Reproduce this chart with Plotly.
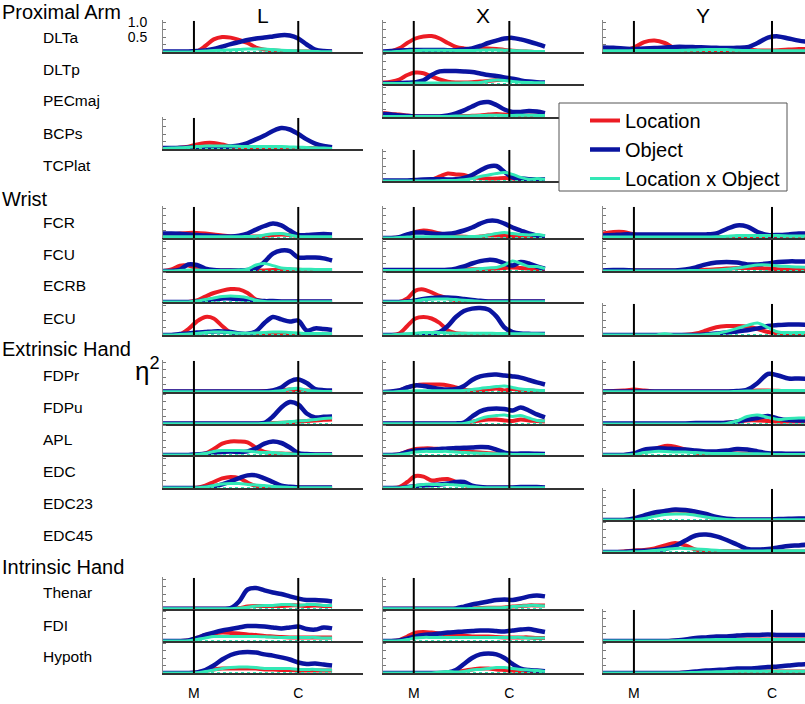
import plotly.graph_objects as go

# ---------------- data ----------------
# shared time grid (fraction of the analysed epoch)
T = [0, 0.05, 0.1, 0.15, 0.2, 0.25, 0.3, 0.35, 0.4, 0.45, 0.5,
     0.55, 0.6, 0.65, 0.7, 0.75, 0.8, 0.85, 0.9, 0.95, 1.0]

# ---- column L ----
L_DLTa_loc = [0,0,0,0,0.02,0.2,0.42,0.5,0.48,0.4,0.3,0.15,0.08,0.05,0.03,0.02,0.02,0.02,0.01,0.01,0.01]
L_DLTa_obj = [0.02,0.02,0.02,0.02,0.03,0.05,0.1,0.18,0.26,0.33,0.4,0.45,0.48,0.52,0.56,0.55,0.45,0.25,0.08,0.03,0.02]
L_DLTa_int = [0,0,0,0,0.02,0.03,0.05,0.06,0.07,0.08,0.1,0.1,0.1,0.08,0.06,0.05,0.04,0.03,0.02,0.01,0.01]

L_BCPs_loc = [0.02,0.02,0.04,0.08,0.15,0.2,0.2,0.15,0.08,0.05,0.04,0.03,0.03,0.03,0.03,0.03,0.03,0.03,0.03,0.02,0.02]
L_BCPs_obj = [0.03,0.03,0.04,0.05,0.06,0.06,0.05,0.06,0.08,0.12,0.2,0.32,0.45,0.6,0.7,0.65,0.5,0.32,0.18,0.1,0.06]
L_BCPs_int = [0.02,0.03,0.04,0.06,0.08,0.1,0.1,0.1,0.1,0.09,0.08,0.08,0.08,0.08,0.08,0.07,0.06,0.05,0.04,0.03,0.02]

L_FCR_loc = [0.08,0.12,0.15,0.17,0.17,0.15,0.12,0.08,0.05,0.04,0.04,0.05,0.06,0.1,0.12,0.1,0.06,0.04,0.03,0.03,0.03]
L_FCR_obj = [0.15,0.15,0.14,0.12,0.1,0.08,0.07,0.05,0.05,0.08,0.15,0.28,0.4,0.48,0.42,0.25,0.1,0.1,0.12,0.13,0.12]
L_FCR_int = [0.04,0.04,0.04,0.04,0.04,0.04,0.04,0.04,0.04,0.04,0.05,0.06,0.1,0.14,0.15,0.1,0.05,0.04,0.04,0.04,0.04]

L_FCU_loc = [0,0.05,0.18,0.18,0.08,0.03,0.02,0.02,0.02,0.02,0.02,0.02,0.02,0.03,0.03,0.04,0.04,0.03,0.03,0.03,0.03]
L_FCU_obj = [0,0,0.05,0.22,0.2,0.08,0.03,0.02,0.02,0.02,0.03,0.08,0.3,0.58,0.68,0.66,0.45,0.45,0.45,0.42,0.35]
L_FCU_int = [0,0,0.02,0.03,0.03,0.02,0.02,0.02,0.02,0.03,0.06,0.2,0.25,0.18,0.1,0.08,0.06,0.06,0.05,0.05,0.05]

L_ECRB_loc = [0,0,0,0,0.05,0.18,0.3,0.38,0.43,0.42,0.3,0.08,0.02,0.01,0.01,0.01,0.01,0.01,0.01,0.01,0.01]
L_ECRB_obj = [0,0,0,0,0.02,0.05,0.08,0.12,0.12,0.1,0.08,0.05,0.03,0.03,0.02,0.02,0.02,0.02,0.02,0.02,0.02]
L_ECRB_int = [0,0,0,0,0.03,0.08,0.13,0.18,0.2,0.18,0.14,0.06,0.02,0.01,0.01,0.01,0.01,0.01,0.01,0.01,0.01]

L_ECU_loc = [0,0,0.02,0.2,0.45,0.6,0.55,0.3,0.08,0.04,0.03,0.02,0.02,0.02,0.02,0.02,0.02,0.02,0.02,0.02,0.02]
L_ECU_obj = [0,0,0.03,0.05,0.08,0.1,0.12,0.12,0.1,0.05,0.04,0.12,0.4,0.6,0.52,0.45,0.48,0.15,0.22,0.2,0.17]
L_ECU_int = [0,0,0.02,0.03,0.05,0.08,0.1,0.1,0.08,0.06,0.06,0.07,0.08,0.1,0.1,0.08,0.07,0.05,0.05,0.05,0.04]

L_FDPr_loc = [0.02,0.02,0.02,0.02,0.02,0.02,0.02,0.02,0.02,0.02,0.02,0.02,0.03,0.04,0.06,0.08,0.06,0.05,0.04,0.03,0.03]
L_FDPr_obj = [0.02,0.02,0.02,0.02,0.02,0.02,0.02,0.02,0.02,0.02,0.02,0.02,0.02,0.05,0.15,0.35,0.42,0.3,0.1,0.06,0.05]
L_FDPr_int = [0.01,0.01,0.01,0.01,0.01,0.01,0.01,0.01,0.01,0.01,0.01,0.01,0.01,0.02,0.04,0.1,0.12,0.06,0.03,0.02,0.02]

L_FDPu_loc = [0.01,0.01,0.01,0.01,0.01,0.01,0.01,0.01,0.01,0.01,0.01,0.01,0.02,0.03,0.04,0.05,0.08,0.1,0.12,0.14,0.15]
L_FDPu_obj = [0.02,0.02,0.02,0.02,0.02,0.02,0.02,0.02,0.02,0.02,0.02,0.02,0.04,0.25,0.55,0.73,0.65,0.35,0.22,0.24,0.25]
L_FDPu_int = [0.01,0.01,0.01,0.01,0.01,0.01,0.01,0.01,0.01,0.01,0.01,0.01,0.02,0.03,0.05,0.08,0.1,0.12,0.15,0.18,0.2]

L_APL_loc = [0,0,0,0,0.01,0.05,0.2,0.38,0.45,0.45,0.42,0.25,0.1,0.06,0.05,0.04,0.03,0.02,0.02,0.02,0.02]
L_APL_obj = [0,0,0,0,0.02,0.04,0.08,0.1,0.12,0.1,0.12,0.22,0.38,0.45,0.4,0.25,0.06,0.03,0.02,0.02,0.02]
L_APL_int = [0,0,0,0,0.02,0.05,0.12,0.15,0.15,0.15,0.13,0.1,0.08,0.08,0.06,0.04,0.02,0.02,0.02,0.02,0.02]

L_EDC_loc = [0,0,0,0,0.01,0.08,0.2,0.32,0.37,0.33,0.18,0.06,0.02,0.01,0.01,0.01,0.01,0.01,0.01,0.01,0.01]
L_EDC_obj = [0,0,0,0,0,0.02,0.05,0.12,0.22,0.33,0.42,0.42,0.32,0.2,0.08,0.04,0.02,0.02,0.02,0.02,0.02]
L_EDC_int = [0,0,0,0,0.01,0.03,0.08,0.13,0.15,0.15,0.12,0.1,0.08,0.05,0.03,0.02,0.01,0.01,0.01,0.01,0.01]

L_Thenar_loc = [0.01,0.01,0.01,0.01,0.01,0.01,0.01,0.01,0.01,0.03,0.08,0.1,0.1,0.1,0.1,0.12,0.12,0.1,0.12,0.1,0.1]
L_Thenar_obj = [0.01,0.01,0.01,0.01,0.01,0.01,0.01,0.01,0.03,0.25,0.65,0.7,0.62,0.55,0.5,0.42,0.35,0.3,0.3,0.28,0.25]
L_Thenar_int = [0.01,0.01,0.01,0.01,0.01,0.01,0.01,0.01,0.01,0.03,0.06,0.1,0.12,0.12,0.15,0.15,0.12,0.15,0.15,0.12,0.12]

L_FDI_loc = [0,0,0,0.02,0.1,0.2,0.25,0.28,0.27,0.25,0.22,0.2,0.17,0.15,0.13,0.12,0.12,0.12,0.12,0.12,0.12]
L_FDI_obj = [0,0,0,0.02,0.1,0.2,0.28,0.35,0.4,0.45,0.5,0.5,0.48,0.45,0.42,0.45,0.48,0.4,0.38,0.45,0.42]
L_FDI_int = [0,0,0,0.01,0.05,0.1,0.15,0.15,0.15,0.15,0.15,0.15,0.14,0.13,0.12,0.12,0.12,0.12,0.12,0.1,0.1]

L_Hypoth_loc = [0,0,0,0,0.02,0.08,0.12,0.15,0.15,0.15,0.15,0.15,0.12,0.12,0.1,0.1,0.08,0.08,0.08,0.08,0.08]
L_Hypoth_obj = [0,0,0,0,0.02,0.1,0.25,0.45,0.6,0.68,0.7,0.68,0.62,0.58,0.52,0.45,0.35,0.3,0.32,0.28,0.25]
L_Hypoth_int = [0,0,0,0,0.01,0.05,0.1,0.15,0.18,0.2,0.2,0.18,0.15,0.15,0.15,0.15,0.12,0.12,0.12,0.1,0.1]

# ---- column X ----
X_DLTa_loc = [0,0.03,0.12,0.3,0.45,0.52,0.53,0.45,0.3,0.17,0.12,0.1,0.12,0.12,0.1,0.07,0.04,0.02,0.01,0,0]
X_DLTa_obj = [0.02,0.03,0.05,0.06,0.07,0.07,0.07,0.07,0.06,0.06,0.08,0.12,0.2,0.3,0.38,0.45,0.47,0.42,0.35,0.27,0.18]
X_DLTa_int = [0,0,0.02,0.04,0.05,0.06,0.06,0.06,0.06,0.05,0.05,0.05,0.06,0.07,0.07,0.06,0.05,0.04,0.03,0.02,0.02]

X_DLTp_loc = [0.05,0.08,0.15,0.3,0.38,0.36,0.25,0.15,0.08,0.05,0.05,0.06,0.08,0.1,0.13,0.15,0.14,0.1,0.06,0.04,0.03]
X_DLTp_obj = [0.02,0.02,0.03,0.04,0.06,0.12,0.3,0.42,0.43,0.43,0.42,0.4,0.35,0.3,0.27,0.22,0.18,0.12,0.08,0.06,0.05]
X_DLTp_int = [0.02,0.02,0.02,0.02,0.03,0.03,0.03,0.03,0.03,0.03,0.04,0.04,0.05,0.1,0.13,0.12,0.08,0.06,0.05,0.04,0.04]

X_PECmaj_loc = [0.13,0.1,0.08,0.05,0.02,0.02,0.02,0.02,0.03,0.03,0.03,0.04,0.05,0.08,0.1,0.08,0.05,0.04,0.05,0.05,0.04]
X_PECmaj_obj = [0.1,0.08,0.05,0.03,0.02,0.02,0.02,0.02,0.05,0.12,0.22,0.35,0.47,0.5,0.4,0.25,0.17,0.17,0.2,0.18,0.13]
X_PECmaj_int = [0.02,0.02,0.02,0.02,0.02,0.02,0.02,0.02,0.02,0.03,0.03,0.04,0.05,0.06,0.06,0.05,0.05,0.06,0.06,0.05,0.05]

X_TCPlat_loc = [0,0,0,0,0.02,0.03,0.05,0.15,0.25,0.22,0.2,0.12,0.1,0.08,0.08,0.1,0.08,0.05,0.03,0.02,0.02]
X_TCPlat_obj = [0.02,0.02,0.02,0.02,0.03,0.05,0.06,0.06,0.05,0.06,0.1,0.2,0.35,0.48,0.5,0.3,0.12,0.08,0.06,0.06,0.05]
X_TCPlat_int = [0,0,0,0,0,0,0,0.01,0.02,0.02,0.04,0.08,0.15,0.2,0.25,0.28,0.22,0.12,0.06,0.08,0.05]

X_FCR_loc = [0,0,0.02,0.1,0.2,0.25,0.22,0.15,0.1,0.06,0.04,0.03,0.05,0.08,0.08,0.07,0.05,0.04,0.03,0.02,0.02]
X_FCR_obj = [0,0,0.03,0.12,0.18,0.18,0.15,0.13,0.14,0.18,0.25,0.35,0.48,0.57,0.57,0.48,0.35,0.25,0.15,0.08,0.04]
X_FCR_int = [0,0,0.02,0.03,0.04,0.04,0.04,0.04,0.04,0.04,0.04,0.05,0.06,0.1,0.15,0.18,0.15,0.12,0.1,0.12,0.08]

X_FCU_loc = [0.02,0.02,0.02,0.02,0.02,0.02,0.02,0.02,0.03,0.04,0.05,0.06,0.06,0.06,0.08,0.1,0.12,0.1,0.08,0.05,0.03]
X_FCU_obj = [0.03,0.03,0.03,0.03,0.03,0.03,0.03,0.03,0.04,0.08,0.15,0.25,0.33,0.37,0.35,0.25,0.18,0.3,0.25,0.15,0.08]
X_FCU_int = [0.02,0.02,0.02,0.02,0.02,0.02,0.02,0.02,0.02,0.02,0.03,0.05,0.08,0.1,0.12,0.2,0.33,0.25,0.15,0.15,0.08]

X_ECRB_loc = [0,0,0,0.12,0.38,0.42,0.32,0.2,0.12,0.06,0.03,0.02,0.02,0.02,0.02,0.02,0.02,0.02,0.02,0.02,0.02]
X_ECRB_obj = [0,0,0,0.02,0.05,0.1,0.13,0.15,0.15,0.13,0.1,0.07,0.04,0.02,0.02,0.02,0.02,0.02,0.02,0.02,0.02]
X_ECRB_int = [0,0,0,0.02,0.04,0.08,0.1,0.1,0.1,0.08,0.06,0.04,0.02,0.01,0.01,0.01,0.01,0.01,0.01,0.01,0.01]

X_ECU_loc = [0,0,0.05,0.3,0.55,0.6,0.55,0.4,0.15,0.06,0.04,0.03,0.03,0.03,0.03,0.03,0.03,0.03,0.03,0.03,0.03]
X_ECU_obj = [0,0,0,0,0.02,0.03,0.05,0.1,0.3,0.6,0.8,0.88,0.9,0.85,0.62,0.25,0.1,0.05,0.04,0.03,0.03]
X_ECU_int = [0,0,0.02,0.04,0.06,0.08,0.08,0.08,0.07,0.06,0.06,0.06,0.06,0.06,0.05,0.05,0.04,0.04,0.04,0.04,0.03]

X_FDPr_loc = [0,0,0.05,0.15,0.22,0.25,0.25,0.25,0.22,0.15,0.08,0.05,0.05,0.08,0.12,0.05,0.1,0.05,0.05,0.03,0.02]
X_FDPr_obj = [0,0.02,0.05,0.15,0.22,0.2,0.15,0.1,0.08,0.1,0.2,0.4,0.52,0.57,0.58,0.55,0.52,0.48,0.4,0.32,0.25]
X_FDPr_int = [0,0,0.02,0.03,0.04,0.04,0.04,0.04,0.04,0.04,0.05,0.08,0.12,0.15,0.18,0.2,0.15,0.1,0.08,0.06,0.05]

X_FDPu_loc = [0.01,0.01,0.01,0.01,0.01,0.01,0.01,0.01,0.01,0.01,0.03,0.08,0.12,0.15,0.15,0.12,0.1,0.15,0.12,0.1,0.08]
X_FDPu_obj = [0.02,0.02,0.02,0.02,0.02,0.02,0.02,0.02,0.02,0.02,0.05,0.25,0.42,0.5,0.52,0.5,0.45,0.55,0.45,0.32,0.22]
X_FDPu_int = [0.01,0.01,0.01,0.01,0.01,0.01,0.01,0.01,0.01,0.01,0.02,0.08,0.18,0.25,0.28,0.3,0.25,0.28,0.2,0.12,0.1]

X_APL_loc = [0,0,0.02,0.12,0.2,0.22,0.22,0.2,0.18,0.15,0.12,0.1,0.08,0.06,0.05,0.04,0.03,0.03,0.03,0.03,0.03]
X_APL_obj = [0,0,0.02,0.1,0.15,0.17,0.18,0.2,0.22,0.23,0.24,0.25,0.27,0.26,0.18,0.08,0.04,0.05,0.05,0.04,0.03]
X_APL_int = [0,0,0.02,0.05,0.1,0.12,0.12,0.12,0.12,0.1,0.08,0.07,0.06,0.05,0.04,0.03,0.02,0.02,0.02,0.02,0.02]

X_EDC_loc = [0,0,0.03,0.2,0.4,0.38,0.25,0.28,0.3,0.2,0.1,0.04,0.02,0.01,0.01,0.01,0.01,0.01,0.01,0.01,0.01]
X_EDC_obj = [0,0,0,0.03,0.06,0.08,0.1,0.12,0.15,0.2,0.2,0.08,0.03,0.02,0.02,0.02,0.02,0.03,0.03,0.03,0.02]
X_EDC_int = [0,0,0,0.03,0.08,0.12,0.12,0.12,0.12,0.1,0.08,0.04,0.02,0.01,0.01,0.01,0.01,0.01,0.01,0.01,0.01]

X_Thenar_loc = [0.01,0.01,0.01,0.01,0.01,0.01,0.01,0.01,0.01,0.01,0.01,0.02,0.03,0.04,0.04,0.05,0.08,0.1,0.12,0.12,0.12]
X_Thenar_obj = [0.01,0.01,0.01,0.01,0.01,0.01,0.01,0.01,0.01,0.02,0.08,0.15,0.2,0.25,0.3,0.32,0.3,0.35,0.42,0.45,0.42]
X_Thenar_int = [0.01,0.01,0.01,0.01,0.01,0.01,0.01,0.01,0.01,0.01,0.01,0.02,0.03,0.04,0.04,0.05,0.08,0.1,0.12,0.12,0.1]

X_FDI_loc = [0,0,0.03,0.15,0.28,0.3,0.28,0.25,0.22,0.2,0.18,0.15,0.15,0.15,0.13,0.12,0.12,0.12,0.12,0.1,0.1]
X_FDI_obj = [0,0,0.02,0.08,0.15,0.2,0.22,0.25,0.28,0.3,0.32,0.33,0.35,0.35,0.33,0.32,0.35,0.38,0.4,0.35,0.3]
X_FDI_int = [0,0,0.01,0.05,0.1,0.12,0.12,0.12,0.12,0.12,0.12,0.12,0.12,0.12,0.12,0.12,0.12,0.12,0.1,0.1,0.1]

X_Hypoth_loc = [0,0,0,0,0,0,0,0,0.01,0.03,0.08,0.12,0.15,0.15,0.12,0.1,0.08,0.05,0.04,0.03,0.03]
X_Hypoth_obj = [0,0,0,0,0,0,0,0,0.02,0.1,0.3,0.5,0.62,0.65,0.62,0.5,0.3,0.15,0.1,0.08,0.06]
X_Hypoth_int = [0,0,0,0,0,0,0,0.03,0.05,0.03,0.05,0.1,0.12,0.15,0.18,0.18,0.15,0.12,0.1,0.08,0.05]

# ---- column Y ----
Y_DLTa_loc = [0.03,0.03,0.05,0.15,0.33,0.38,0.3,0.12,0.05,0.04,0.04,0.05,0.05,0.06,0.08,0.05,0.05,0.06,0.08,0.1,0.1]
Y_DLTa_obj = [0.15,0.14,0.12,0.1,0.12,0.13,0.15,0.17,0.17,0.16,0.15,0.14,0.13,0.14,0.16,0.3,0.48,0.52,0.45,0.38,0.33]
Y_DLTa_int = [0.04,0.04,0.04,0.05,0.05,0.05,0.05,0.05,0.06,0.07,0.08,0.08,0.08,0.06,0.05,0.05,0.04,0.04,0.04,0.04,0.04]

Y_FCR_loc = [0.15,0.2,0.2,0.12,0.06,0.05,0.04,0.03,0.03,0.03,0.03,0.03,0.03,0.04,0.05,0.05,0.05,0.05,0.05,0.05,0.05]
Y_FCR_obj = [0.08,0.1,0.12,0.12,0.12,0.12,0.12,0.12,0.12,0.12,0.12,0.15,0.3,0.42,0.38,0.2,0.1,0.1,0.12,0.15,0.15]
Y_FCR_int = [0.03,0.03,0.03,0.03,0.03,0.03,0.03,0.03,0.03,0.03,0.03,0.04,0.06,0.08,0.08,0.08,0.08,0.08,0.07,0.07,0.07]

Y_FCU_loc = [0.02,0.02,0.02,0.02,0.02,0.02,0.02,0.02,0.02,0.03,0.04,0.06,0.08,0.1,0.1,0.1,0.08,0.06,0.05,0.05,0.05]
Y_FCU_obj = [0.02,0.03,0.03,0.02,0.02,0.02,0.02,0.02,0.05,0.12,0.22,0.28,0.3,0.28,0.22,0.22,0.25,0.3,0.32,0.32,0.32]
Y_FCU_int = [0,0,0,0,0,0,0,0,0.01,0.02,0.02,0.03,0.06,0.1,0.15,0.2,0.2,0.17,0.15,0.13,0.12]

Y_ECU_loc = [0,0,0,0,0,0,0,0,0.01,0.05,0.15,0.26,0.3,0.3,0.28,0.2,0.1,0.05,0.04,0.04,0.04]
Y_ECU_obj = [0,0,0,0,0,0,0,0,0,0,0.02,0.05,0.08,0.12,0.16,0.22,0.3,0.33,0.35,0.35,0.33]
Y_ECU_int = [0,0,0,0,0,0,0.04,0,0,0,0.02,0.05,0.12,0.22,0.32,0.4,0.25,0.1,0.08,0.08,0.08]

Y_FDPr_loc = [0.02,0.03,0.05,0.08,0.05,0.02,0.02,0.02,0.02,0.02,0.02,0.02,0.02,0.02,0.03,0.05,0.05,0.04,0.03,0.03,0.03]
Y_FDPr_obj = [0.02,0.02,0.02,0.02,0.02,0.02,0.02,0.02,0.02,0.02,0.02,0.02,0.02,0.03,0.08,0.3,0.6,0.55,0.45,0.45,0.43]
Y_FDPr_int = [0.01,0.01,0.01,0.01,0.01,0.01,0.01,0.01,0.01,0.01,0.01,0.01,0.01,0.02,0.03,0.04,0.05,0.05,0.05,0.05,0.05]

Y_FDPu_loc = [0,0,0,0,0,0,0,0,0,0,0,0.02,0.04,0.08,0.12,0.12,0.1,0.08,0.08,0.08,0.08]
Y_FDPu_obj = [0.02,0.02,0.02,0.02,0.02,0.02,0.02,0.02,0.02,0.03,0.03,0.03,0.04,0.08,0.15,0.2,0.27,0.18,0.13,0.12,0.12]
Y_FDPu_int = [0,0,0,0,0,0,0,0,0,0,0,0,0.02,0.1,0.25,0.3,0.22,0.15,0.18,0.2,0.2]

Y_APL_loc = [0,0,0,0.03,0.1,0.2,0.3,0.28,0.18,0.08,0.05,0.04,0.05,0.05,0.04,0.03,0.02,0.02,0.02,0.02,0.02]
Y_APL_obj = [0,0,0,0.05,0.18,0.22,0.22,0.2,0.18,0.15,0.12,0.12,0.15,0.2,0.18,0.12,0.06,0.05,0.04,0.04,0.04]
Y_APL_int = [0,0,0,0.02,0.08,0.12,0.12,0.1,0.1,0.08,0.06,0.05,0.05,0.05,0.04,0.04,0.03,0.02,0.02,0.02,0.02]

Y_EDC23_loc = [0,0,0,0.02,0.08,0.2,0.28,0.32,0.3,0.22,0.12,0.05,0.02,0.01,0.01,0.01,0.01,0.01,0.01,0.01,0.01]
Y_EDC23_obj = [0,0,0,0.05,0.15,0.25,0.3,0.35,0.33,0.28,0.2,0.1,0.04,0.02,0.02,0.02,0.02,0.03,0.04,0.05,0.05]
Y_EDC23_int = [0,0,0,0.01,0.05,0.12,0.18,0.2,0.2,0.16,0.1,0.05,0.02,0.01,0.01,0.01,0.01,0.01,0.01,0.01,0.01]

Y_EDC45_loc = [0,0,0.02,0.05,0.07,0.12,0.22,0.3,0.22,0.08,0.04,0.03,0.03,0.02,0.02,0.02,0.02,0.02,0.02,0.02,0.02]
Y_EDC45_obj = [0,0,0,0.03,0.04,0.06,0.1,0.2,0.38,0.55,0.58,0.52,0.4,0.25,0.1,0.08,0.1,0.15,0.2,0.22,0.25]
Y_EDC45_int = [0,0,0,0.01,0.02,0.05,0.08,0.12,0.12,0.1,0.08,0.06,0.04,0.03,0.03,0.03,0.04,0.04,0.04,0.04,0.04]

Y_FDI_loc = [0,0,0,0,0,0,0,0.01,0.02,0.03,0.04,0.05,0.05,0.05,0.05,0.05,0.05,0.05,0.05,0.05,0.05]
Y_FDI_obj = [0,0,0,0,0,0,0,0.02,0.05,0.1,0.12,0.15,0.15,0.18,0.2,0.2,0.22,0.2,0.2,0.2,0.2]
Y_FDI_int = [0,0,0,0,0,0,0,0.01,0.02,0.03,0.04,0.05,0.05,0.05,0.05,0.05,0.05,0.05,0.05,0.05,0.05]

Y_Hypoth_loc = [0,0,0,0,0,0,0,0,0.01,0.02,0.03,0.04,0.05,0.05,0.05,0.05,0.05,0.05,0.05,0.05,0.05]
Y_Hypoth_obj = [0,0,0,0,0,0,0,0,0.02,0.05,0.08,0.1,0.12,0.15,0.15,0.17,0.2,0.22,0.25,0.28,0.3]
Y_Hypoth_int = [0,0,0,0,0,0,0,0,0.01,0.02,0.03,0.04,0.05,0.06,0.06,0.06,0.06,0.06,0.06,0.06,0.06]

COLUMNS = ["L", "X", "Y"]
GROUPS = ["Proximal Arm", "Wrist", "Extrinsic Hand", "Intrinsic Hand"]
MUSCLES = ["DLTa", "DLTp", "PECmaj", "BCPs", "TCPlat", "FCR", "FCU", "ECRB", "ECU",
           "FDPr", "FDPu", "APL", "EDC", "EDC23", "EDC45", "Thenar", "FDI", "Hypoth"]
SERIES = ["Location", "Object", "Location x Object"]
TICK_TEXT = ["M", "C"]
YTICK_VALS = [0.5, 1.0]
YTICK_TEXT = ["0.5", "1.0"]

# ---------------- layout constants (pixels) ----------------
W, H = 805, 704
RED, BLUE, CYAN = "#EC1C24", "#0A14A0", "#33E8B6"
FONT = "Arial, Liberation Sans, sans-serif"

# column: (left px, right px, x-range max, M position, C position)
COLGEOM = {
    "L": (163, 363, 1.183, 0.183, 0.80),
    "X": (383, 584, 1.241, 0.19, 0.78),
    "Y": (603, 805, 0.98, 0.15, 0.82),
}
BASE = {"DLTa": 52, "DLTp": 84, "PECmaj": 117, "BCPs": 149, "TCPlat": 181,
        "FCR": 238, "FCU": 271, "ECRB": 302, "ECU": 335,
        "FDPr": 392, "FDPu": 424, "APL": 455, "EDC": 488, "EDC23": 520, "EDC45": 552,
        "Thenar": 609, "FDI": 641, "Hypoth": 673}
LABEL_Y = {"DLTa": 37, "DLTp": 70, "PECmaj": 100, "BCPs": 133, "TCPlat": 165,
           "FCR": 222, "FCU": 254, "ECRB": 285, "ECU": 318,
           "FDPr": 375, "FDPu": 407, "APL": 439, "EDC": 471, "EDC23": 503, "EDC45": 535,
           "Thenar": 592, "FDI": 625, "Hypoth": 656}
GROUP_Y = [12, 199, 349, 567]
COL_TITLE_X = [263, 483, 703]
LEG_BOX = (559, 103, 787, 191)

g = globals()
fig = go.Figure()
shapes = []
axes = {}
k = 0
for col in COLUMNS:
    x0, x1, xmax, Mpos, Cpos = COLGEOM[col]
    for m in MUSCLES:
        if f"{col}_{m}_loc" not in g:
            continue
        k += 1
        xa = "x" if k == 1 else f"x{k}"
        ya = "y" if k == 1 else f"y{k}"
        loc, obj, inter = g[f"{col}_{m}_loc"], g[f"{col}_{m}_obj"], g[f"{col}_{m}_int"]
        for vals, color, width, name in [(loc, RED, 4, SERIES[0]),
                                         (obj, BLUE, 4.5, SERIES[1]),
                                         (inter, CYAN, 3, SERIES[2])]:
            fig.add_trace(go.Scatter(
                x=T, y=vals, mode="lines", name=name, legendgroup=name,
                showlegend=(k == 1),
                line=dict(color=color, width=width, shape="spline", smoothing=0.9),
                xaxis=xa, yaxis=ya, hoverinfo="skip"))
        b = BASE[m]
        bottom = (m == "Hypoth")
        first = (col == "L" and m == "DLTa")
        axes["xaxis" if k == 1 else f"xaxis{k}"] = dict(
            domain=[x0 / W, x1 / W], range=[0, xmax], anchor=ya, automargin=False,
            showgrid=False, zeroline=False, showline=True, linecolor="#333", linewidth=1.5,
            ticks="", showticklabels=bottom,
            tickvals=[Mpos, Cpos], ticktext=TICK_TEXT,
            tickfont=dict(size=14, family=FONT, color="black"),
            ticklabelstandoff=6, fixedrange=True)
        axes["yaxis" if k == 1 else f"yaxis{k}"] = dict(
            domain=[(H - b) / H, (H - b + 32) / H], range=[0, 32 / 30], anchor=xa,
            automargin=False,
            showgrid=False, zeroline=False, showline=True, linecolor="#888", linewidth=1,
            ticks="inside", ticklen=3, tickcolor="#777",
            tickvals=YTICK_VALS, ticktext=YTICK_TEXT,
            minor=dict(ticks="inside", ticklen=3, tickcolor="#777", tick0=0, dtick=0.25),
            showticklabels=first, ticklabelstandoff=12,
            tickfont=dict(size=14, family=FONT, color="black"), fixedrange=True)
        # dotted baseline inside the data range
        shapes.append(dict(type="line", xref=xa, yref=ya, x0=0, x1=1, y0=0, y1=0,
                           line=dict(color=CYAN, width=2, dash="dot"), layer="above"))
        # M and C event markers
        for pos in (Mpos, Cpos):
            shapes.append(dict(type="line", xref=xa, yref=f"{ya} domain", x0=pos, x1=pos,
                               y0=0, y1=0.97, line=dict(color="black", width=2), layer="above"))

# legend frame
shapes.append(dict(type="rect", xref="paper", yref="paper",
                   x0=LEG_BOX[0] / W, x1=LEG_BOX[2] / W,
                   y0=1 - LEG_BOX[3] / H, y1=1 - LEG_BOX[1] / H,
                   fillcolor="white", line=dict(color="#555", width=1), layer="above"))

ann = []
for name, yy in zip(GROUPS, GROUP_Y):
    ann.append(dict(text=name, x=0, y=1 - yy / H, xref="paper", yref="paper",
                    xanchor="left", yanchor="middle", showarrow=False,
                    font=dict(size=20, family=FONT, color="black")))
for m in MUSCLES:
    ann.append(dict(text=m, x=41 / W, y=1 - LABEL_Y[m] / H, xref="paper", yref="paper",
                    xanchor="left", yanchor="middle", showarrow=False,
                    font=dict(size=15.5, family=FONT, color="black")))
for c, xx in zip(COLUMNS, COL_TITLE_X):
    ann.append(dict(text=c, x=xx / W, y=1 - 15 / H, xref="paper", yref="paper",
                    xanchor="center", yanchor="middle", showarrow=False,
                    font=dict(size=21, family=FONT, color="black")))
ann.append(dict(text="η<sup>2</sup>", x=147 / W, y=1 - 370 / H, xref="paper", yref="paper",
                xanchor="center", yanchor="middle", showarrow=False,
                font=dict(size=26, family=FONT, color="black")))

fig.update_layout(
    width=W, height=H, margin=dict(l=0, r=0, t=0, b=0, autoexpand=False),
    paper_bgcolor="white", plot_bgcolor="rgba(0,0,0,0)",
    shapes=shapes, annotations=ann,
    showlegend=True,
    legend=dict(x=585 / W, y=1 - 101 / H, xanchor="left", yanchor="top",
                bgcolor="rgba(0,0,0,0)", borderwidth=0,
                font=dict(size=20, family=FONT, color="black"),
                tracegroupgap=0, traceorder="normal"),
    **axes)

fig.write_html("out.html", config={"displayModeBar": False},
               post_script="document.body.style.margin='0px';")
